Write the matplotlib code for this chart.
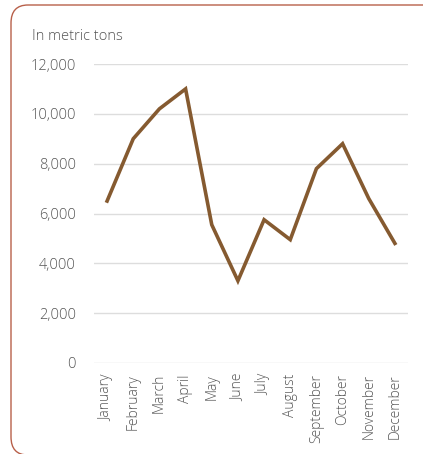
import matplotlib.pyplot as plt
from matplotlib.patches import FancyBboxPatch

months = ['January', 'February', 'March', 'April', 'May', 'June', 'July',
          'August', 'September', 'October', 'November', 'December']
tons = [6500, 9000, 10200, 11000, 5550, 3300, 5750, 4950, 7800, 8800, 6600, 4800]
yticks = [0, 2000, 4000, 6000, 8000, 10000, 12000]
ytick_labels = ['0', '2,000', '4,000', '6,000', '8,000', '10,000', '12,000']

plt.rcParams['font.family'] = ['Open Sans', 'DejaVu Sans']
plt.rcParams['font.weight'] = 'light'

fig = plt.figure(figsize=(4.23, 4.54), dpi=100)

# rounded frame around the chart, running off the right edge
frame = FancyBboxPatch((11 / 423, 1 - 455 / 454), 430 / 423, 450 / 454,
                       boxstyle='round,pad=0,rounding_size=0.04',
                       transform=fig.transFigure, fill=False,
                       edgecolor='#b8604a', linewidth=1.0, clip_on=False)
fig.patches.append(frame)

ax = fig.add_axes([94 / 423, 1 - 363 / 454, 314 / 423, 299 / 454])
ax.plot(range(len(months)), tons, color='#855a30', linewidth=2.6,
        solid_joinstyle='miter', zorder=3)

ax.set_xlim(-0.5, 11.5)
ax.set_ylim(0, 12000)
ax.set_yticks(yticks)
ax.set_yticklabels(ytick_labels)
ax.set_xticks(range(len(months)))
ax.set_xticklabels(months, rotation=90)
ax.grid(axis='y', color='#dddddd', linewidth=1.0)
ax.set_axisbelow(True)
for s in ax.spines.values():
    s.set_visible(False)
ax.tick_params(axis='both', length=0, colors='#555555', labelsize=10.5)
ax.tick_params(axis='y', pad=13)
ax.tick_params(axis='x', pad=8, labelsize=10)

fig.text(32 / 423, 1 - 36 / 454, 'In metric tons', fontsize=10.5,
         color='#555555', va='center', ha='left')

fig.savefig('out.png', dpi=100)
